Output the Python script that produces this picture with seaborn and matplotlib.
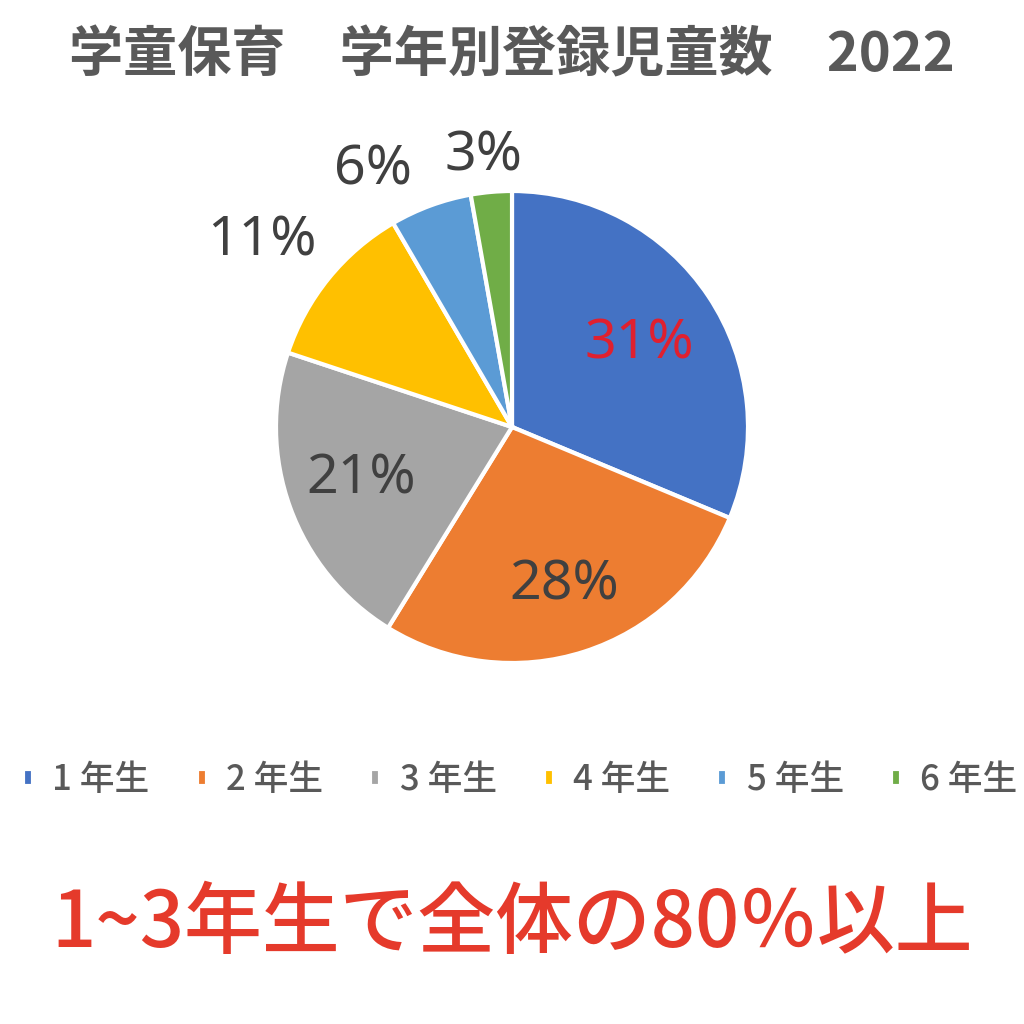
import matplotlib
matplotlib.use("Agg")
import matplotlib.pyplot as plt
import seaborn as sns

categories = ["1 年生", "2 年生", "3 年生", "4 年生", "5 年生", "6 年生"]
shares = [31.3, 27.5, 21.3, 11.5, 5.6, 2.8]
pct_labels = ["31%", "28%", "21%", "11%", "6%", "3%"]
title_text = "学童保育　学年別登録児童数　2022"
note_text = "1~3年生で全体の80％以上"

sns.set_theme(style="white")
plt.rcParams['font.family'] = ['Noto Sans CJK JP', 'DejaVu Sans']
colors = sns.color_palette(["#4472C4", "#ED7D31", "#A5A5A5", "#FFC000", "#5B9BD5", "#70AD47"])

fig = plt.figure(figsize=(10.24, 10.24), dpi=100)
fig.patch.set_facecolor("white")
cx, cy, r = 512, 427, 236
ax = fig.add_axes([(cx - r) / 1024, (1024 - cy - r) / 1024, 2 * r / 1024, 2 * r / 1024])
wedges, _ = ax.pie(shares, colors=colors, startangle=90, counterclock=False,
                   radius=1.0, wedgeprops=dict(edgecolor="white", linewidth=3))
ax.set_xlim(-1, 1)
ax.set_ylim(-1, 1)
ax.set_aspect("equal")
ax.axis("off")

# label placement (in pie-radius units) and colours
label_pos = [(0.54, 0.35), (0.22, -0.67), (-0.64, -0.22),
             (-1.06, 0.79), (-0.59, 1.09), (-0.12, 1.15)]
label_colors = ["#E0202F", "#404040", "#404040", "#404040", "#404040", "#404040"]
for lab, (x, y), c in zip(pct_labels, label_pos, label_colors):
    ax.text(x, y, lab, ha="center", va="center", fontsize=40, color=c,
            family=["Noto Sans", "DejaVu Sans"])

fig.text(0.5, 1 - 56 / 1024, title_text, ha="center", va="center", fontsize=39,
         fontweight="bold", color="#595959")

leg = fig.legend(wedges, categories, ncol=6, loc="center",
                 bbox_to_anchor=(0.508, 1 - 780 / 1024), frameon=False,
                 handlelength=0.3, handleheight=0.4, handletextpad=0.55,
                 columnspacing=1.35, fontsize=25)
for t in leg.get_texts():
    t.set_color("#595959")
    t.set_fontweight("medium")

fig.text(0.5, 1 - 925 / 1024, note_text, ha="center", va="center", fontsize=56,
         fontweight="medium", color="#E53A2B")

fig.savefig("out.png", dpi=100, facecolor="white")
